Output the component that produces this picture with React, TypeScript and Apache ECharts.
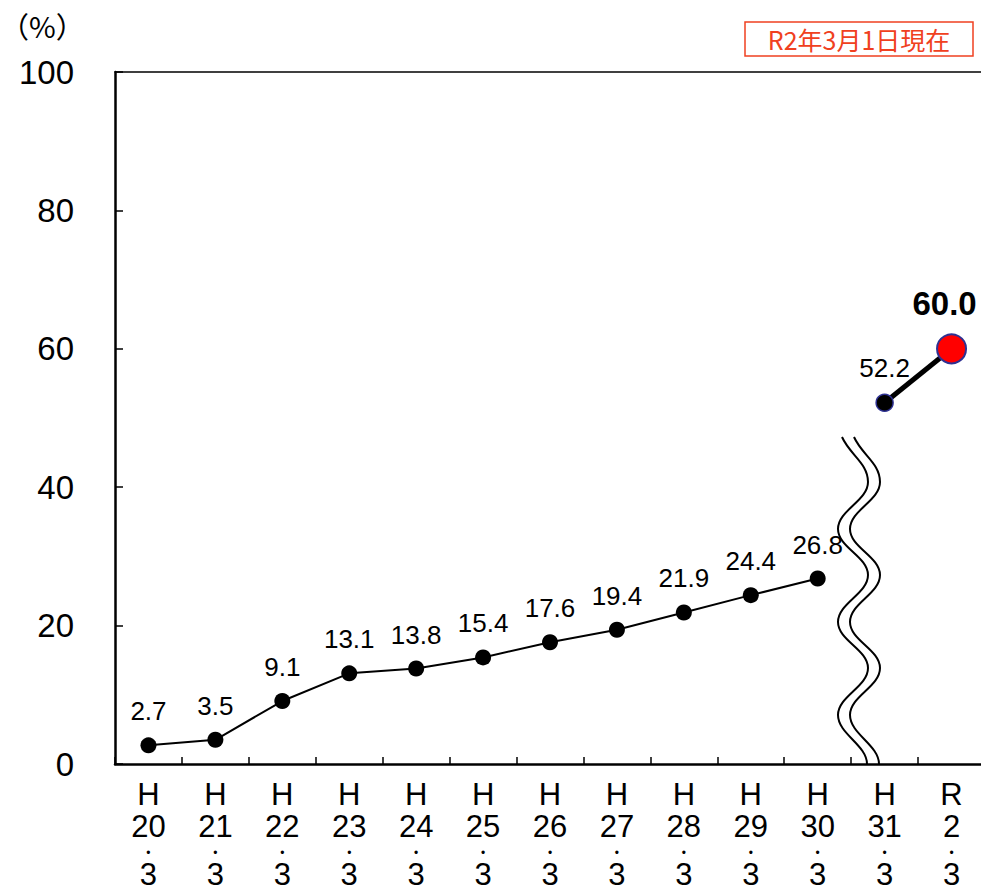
import React, { useEffect, useRef } from "react";
import * as echarts from "echarts";

const eras = ["H", "H", "H", "H", "H", "H", "H", "H", "H", "H", "H", "H", "R"];
const years = ["20", "21", "22", "23", "24", "25", "26", "27", "28", "29", "30", "31", "2"];
const months = ["3", "3", "3", "3", "3", "3", "3", "3", "3", "3", "3", "3", "3"];
const categories = eras.map((e, i) => `${e}${years[i]}.${months[i]}`);

// values before the break (H20.3 - H30.3)
const valuesBefore = [2.7, 3.5, 9.1, 13.1, 13.8, 15.4, 17.6, 19.4, 21.9, 24.4, 26.8];
// values after the break (H31.3, R2.3)
const valuesAfter = [52.2, 60.0];

const yTicks = { min: 0, max: 100, interval: 20 };
const unitLabel = "（%）";
const noteLabel = "R2年3月1日現在";

function wavePath(dx: number): string {
  const xl = 838 + dx;
  const xr = 868 + dx;
  const pts: [number, number][] = [
    [xr, 482],
    [xl, 529],
    [xr, 575],
    [xl, 622],
    [xr, 668],
    [xl, 715],
  ];
  let d = `M${842 + dx},437 C${850 + dx},455 ${xr},463 ${xr},482`;
  const k = 0.4;
  for (let i = 1; i < pts.length; i++) {
    const [x1, y1] = pts[i - 1];
    const [x2, y2] = pts[i];
    const h = y2 - y1;
    d += ` C${x1},${y1 + k * h} ${x2},${y2 - k * h} ${x2},${y2}`;
  }
  d += ` C${xl},734 ${867 + dx},745 ${867 + dx},764`;
  return d;
}

let registered = false;
function registerWave() {
  if (registered) return;
  registered = true;
  const d = wavePath(0) + " " + wavePath(12);
  echarts.graphic.registerShape("breakwave", echarts.graphic.extendPath(d, {}) as any);
}

export default function App() {
  const ref = useRef<HTMLDivElement>(null);
  useEffect(() => {
    if (!ref.current) return;
    registerWave();
    const chart = echarts.init(ref.current, undefined, { renderer: "svg" });
    const n = categories.length;
    const data1 = categories.map((_, i) => (i < valuesBefore.length ? valuesBefore[i] : null));
    const data2 = categories.map((_, i) => {
      const j = i - (n - valuesAfter.length);
      if (j < 0) return null;
      if (j === 0) {
        return {
          value: valuesAfter[j],
          symbolSize: 17,
          itemStyle: { color: "#000000", borderColor: "#2e3192", borderWidth: 1.5 },
          label: { fontSize: 26, distance: 13 },
        };
      }
      return {
        value: valuesAfter[j],
        symbolSize: 29,
        itemStyle: { color: "#ff0000", borderColor: "#2e3192", borderWidth: 2 },
        label: { fontSize: 33, fontWeight: "bold", distance: 13, offset: [-7, 0] },
      };
    });
    const font = "Liberation Sans";
    chart.setOption({
      animation: false,
      textStyle: { fontFamily: font },
      grid: {
        left: 115,
        top: 72,
        height: 692,
        width: 870,
        containLabel: false,
        outerBoundsMode: "none",
      },
      xAxis: [
        {
          type: "category",
          data: categories,
          boundaryGap: true,
          axisLine: { lineStyle: { color: "#000", width: 2.5 } },
          axisTick: { show: true, inside: true, length: 7, lineStyle: { color: "#000", width: 1.5 } },
          axisLabel: {
            interval: 0,
            margin: 14,
            color: "#000",
            hideOverlap: false,
            formatter: (_v: string, i: number) =>
              `{a|${eras[i]}}\n{a|${years[i]}}\n{d|•}\n{b|${months[i]}}`,
            rich: {
              a: { fontSize: 31, lineHeight: 32, fontFamily: font, color: "#000" },
              d: { fontSize: 12, lineHeight: 21, fontFamily: font, color: "#000" },
              b: { fontSize: 31, lineHeight: 23, fontFamily: font, color: "#000" },
            },
          },
          splitLine: { show: false },
        },
        {
          type: "category",
          data: categories,
          position: "top",
          axisLine: { lineStyle: { color: "#000", width: 1.5 } },
          axisTick: { show: false },
          axisLabel: { show: false },
        },
      ],
      yAxis: {
        type: "value",
        min: yTicks.min,
        max: yTicks.max,
        interval: yTicks.interval,
        axisLine: { show: true, lineStyle: { color: "#000", width: 2.5 } },
        axisTick: { show: true, inside: true, length: 8, lineStyle: { color: "#000", width: 1.5 } },
        splitLine: { show: false },
        axisLabel: { fontSize: 33, color: "#000", margin: 41, fontFamily: font },
      },
      series: [
        {
          type: "line",
          data: data1,
          symbol: "circle",
          symbolSize: 16,
          itemStyle: { color: "#000" },
          lineStyle: { color: "#000", width: 2 },
          label: {
            show: true,
            position: "top",
            distance: 13,
            fontSize: 26,
            color: "#000",
            fontFamily: font,
            formatter: (p: any) => Number(p.value).toFixed(1),
          },
          z: 3,
        },
        {
          type: "line",
          data: data2,
          symbol: "circle",
          lineStyle: { color: "#000", width: 5 },
          label: {
            show: true,
            position: "top",
            color: "#000",
            fontFamily: font,
            formatter: (p: any) => Number(p.value).toFixed(1),
          },
          z: 4,
        },
      ],
      graphic: [
        {
          type: "breakwave",
          x: 0,
          y: 0,
          style: { fill: "none", stroke: "#000", lineWidth: 2 },
          z: 10,
        },
        {
          type: "text",
          x: 0,
          y: 25,
          style: {
            text: unitLabel,
            fontSize: 29,
            fill: "#000",
            fontFamily: "Noto Sans CJK JP",
            verticalAlign: "middle",
          },
        },
        {
          type: "rect",
          shape: { x: 745, y: 22, width: 228, height: 34 },
          style: { fill: "#fff", stroke: "#f04020", lineWidth: 1.5 },
        },
        {
          type: "text",
          x: 859,
          y: 39,
          style: {
            text: noteLabel,
            fontSize: 25,
            fill: "#f04020",
            fontFamily: "Noto Sans CJK JP",
            align: "center",
            verticalAlign: "middle",
          },
        },
      ],
    });
    return () => chart.dispose();
  }, []);
  return (
    <div
      ref={ref}
      style={{ position: "fixed", left: 0, top: 0, width: 981, height: 891, background: "#fff" }}
    />
  );
}
